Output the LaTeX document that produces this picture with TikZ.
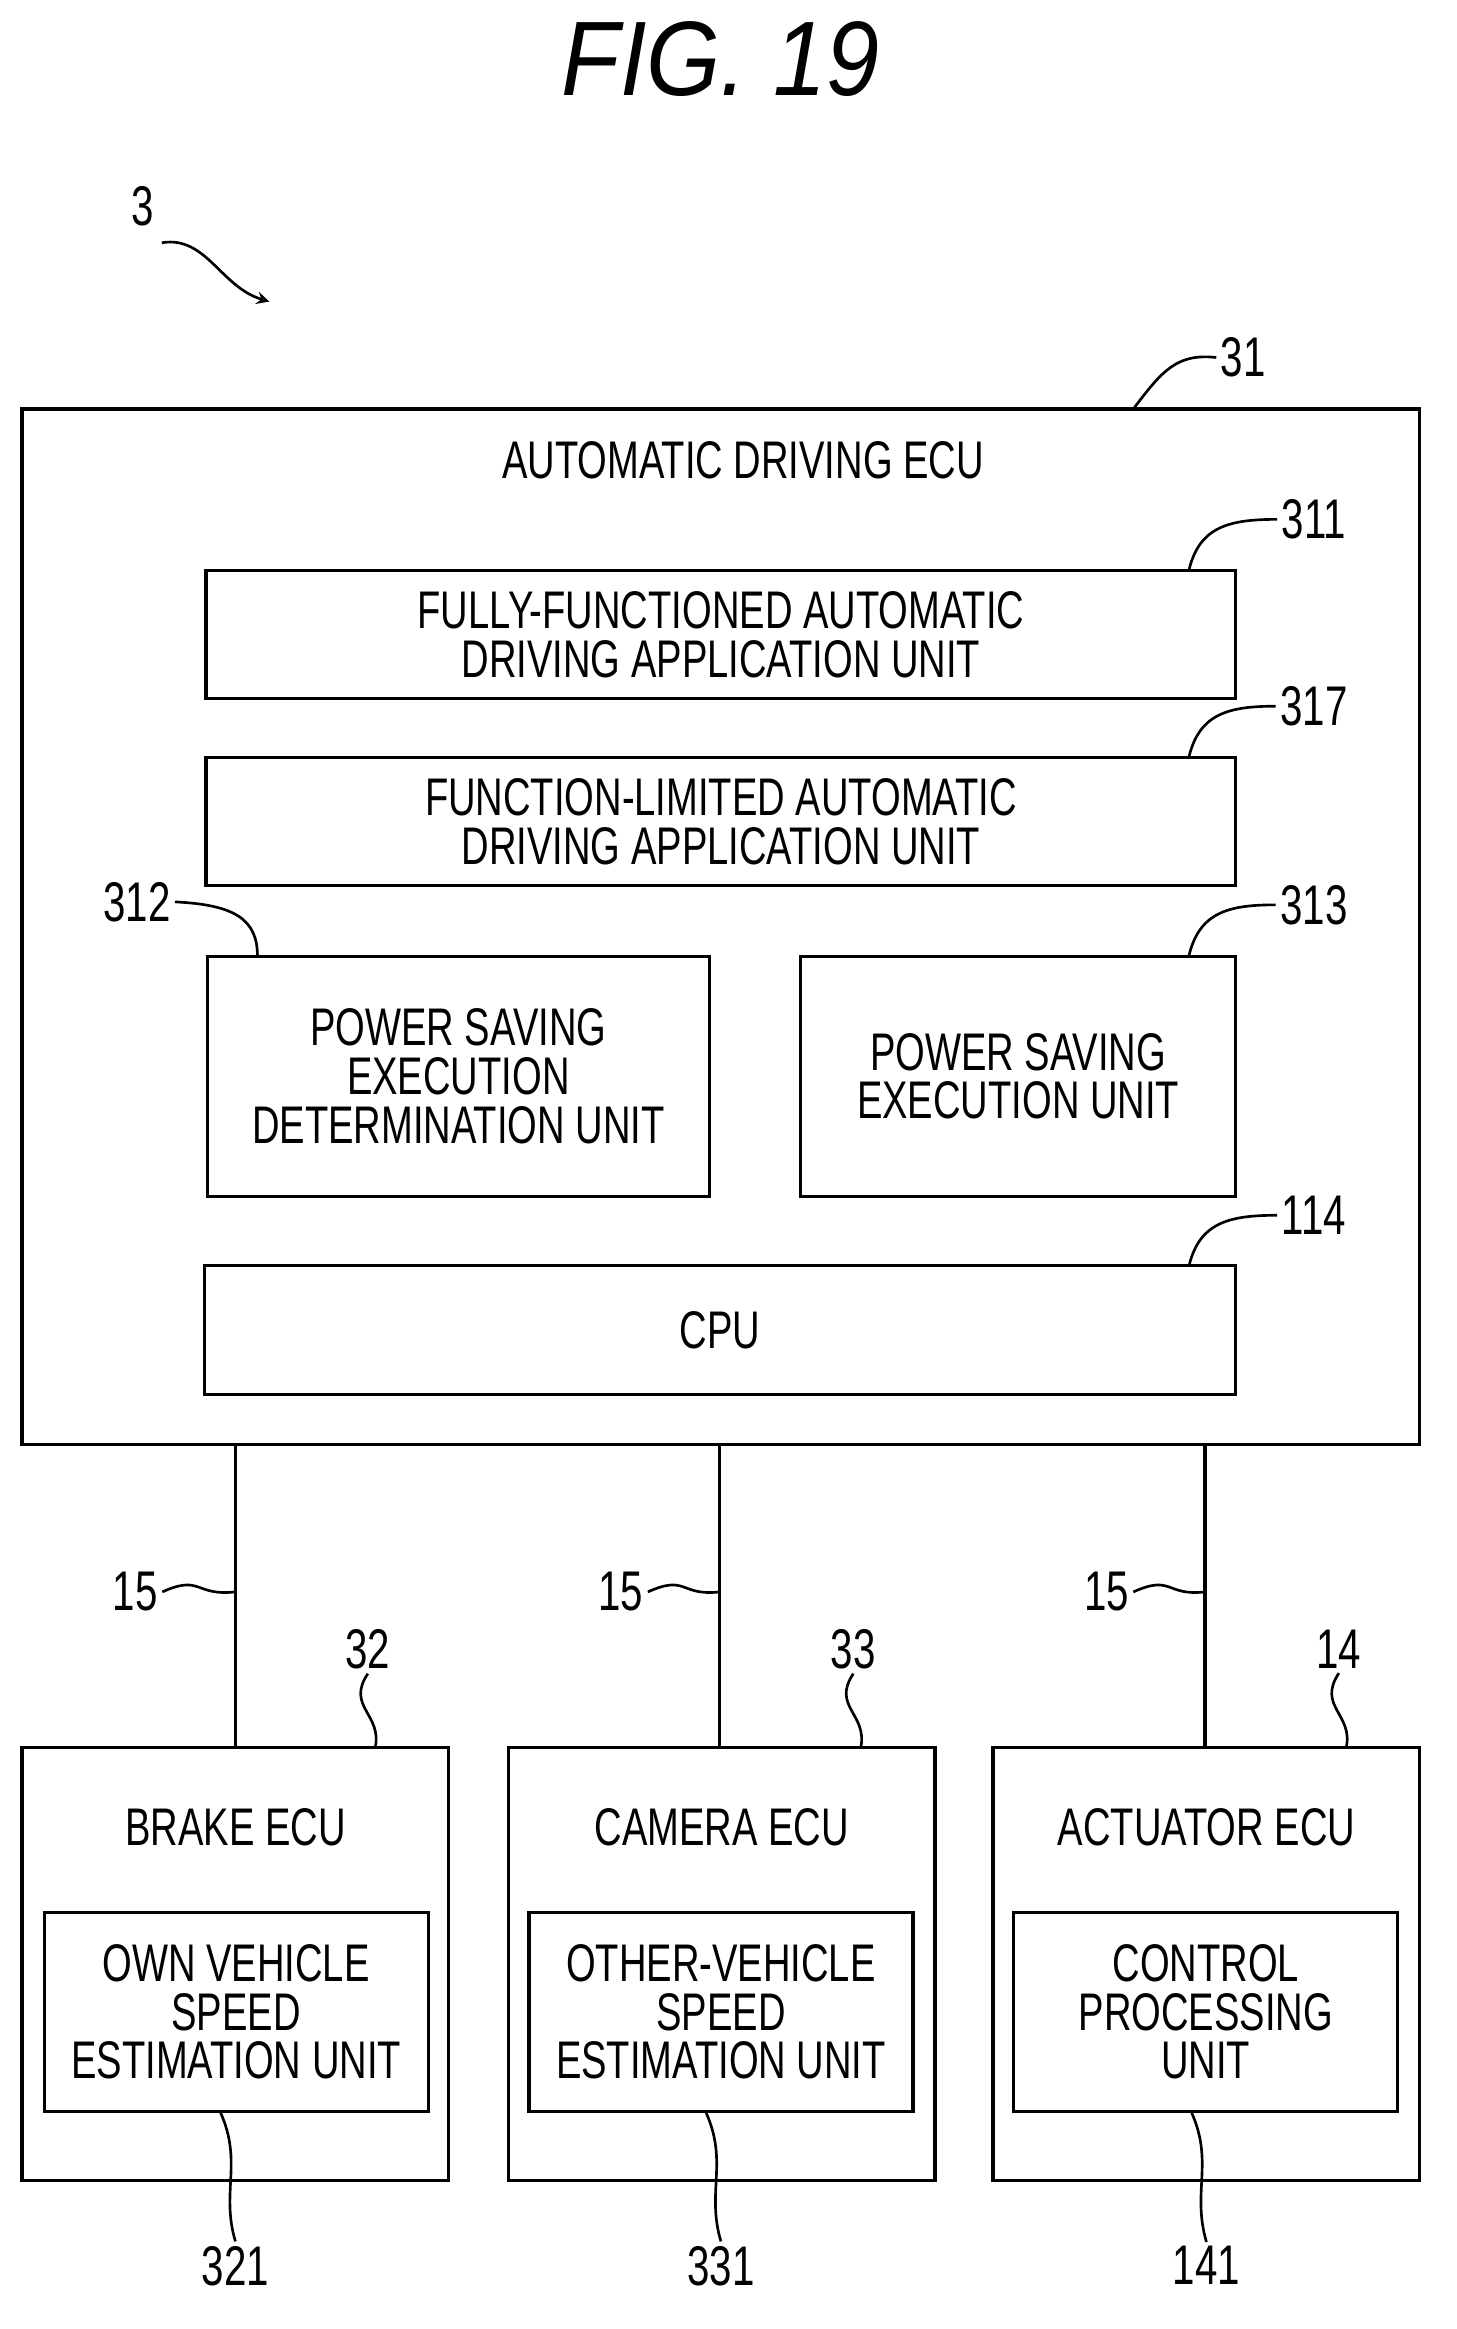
\documentclass[tikz,border=0pt]{standalone}
\usepackage{fontspec}
\setmainfont{Liberation Sans}[FakeStretch=0.72]
\newfontfamily\figfont{Liberation Sans}[FakeStretch=0.9]
\usetikzlibrary{positioning}
\begin{document}
\begin{tikzpicture}[x=0.5pt,y=-0.5pt,line width=1.1pt,
    box/.style={draw,align=center,inner sep=0pt,font=\fontsize{18}{16.5}\selectfont},
    txt/.style={align=center,inner sep=0pt,font=\fontsize{18}{16.5}\selectfont},
    num/.style={inner sep=1pt,font=\fontsize{19}{19}\selectfont},
    lead/.style={line width=0.9pt}]
  \useasboundingbox (0,0) rectangle (990,1583);
  \node[font=\figfont\fontsize{36}{36}\selectfont\itshape] (fig) at (490,40) {FIG. 19};
  % automatic driving ecu
  \node[box,minimum width=475pt,minimum height=352pt] (b31) at (490,630) {};
  \node[txt] (t31) at (505,313) {AUTOMATIC DRIVING ECU};
  \node[box,minimum width=350pt,minimum height=43.5pt] (b311) at (490,431.5)
       {FULLY-FUNCTIONED AUTOMATIC\\DRIVING APPLICATION UNIT};
  \node[box,minimum width=350pt,minimum height=43.5pt] (b317) at (490,558.5)
       {FUNCTION-LIMITED AUTOMATIC\\DRIVING APPLICATION UNIT};
  \node[box,minimum width=170.5pt,minimum height=81.5pt] (b312) at (311.5,731.5)
       {POWER SAVING\\EXECUTION\\DETERMINATION UNIT};
  \node[box,minimum width=148pt,minimum height=81.5pt] (b313) at (692,731.5)
       {POWER SAVING\\EXECUTION UNIT};
  \node[box,minimum width=350.5pt,minimum height=44pt] (b114) at (489.5,904) {CPU};
  % lower ecus
  \foreach \n/\x/\ix/\title/\inner in {32/160/160.5/BRAKE ECU/OWN VEHICLE\\SPEED\\ESTIMATION UNIT,
      33/490.5/490/CAMERA ECU/OTHER-VEHICLE\\SPEED\\ESTIMATION UNIT,
      14/820/819.5/ACTUATOR ECU/CONTROL\\PROCESSING\\UNIT}{
    \node[box,minimum width=145pt,minimum height=147pt] (b\n) at (\x,1335) {};
    \node[txt] (t\n) at (\x,1242) {\title};
    \node[box,minimum width=130.5pt,minimum height=67.5pt] (i\n) at (\ix,1367.5) {\inner};
  }
  % bus lines
  \coordinate (l1) at (160,982);  \coordinate (l2) at (489,982);  \coordinate (l3) at (819,982);
  \draw (l1) -- (l1 |- b32.north);
  \draw (l2) -- (l2 |- b33.north);
  \draw (l3) -- (l3 |- b14.north);
  % reference numerals
  \node[num] (n3) at (97,140) {3};
  \draw[lead,->,>=stealth] (110,165) .. controls (140,160) and (150,195) .. (183,205);
  \node[num] (n31) at (845,243) {31};
  \draw[lead] (n31.west) .. controls (800,240) and (790,252) .. ([xshift=-97.5pt]b31.north east);
  \foreach \n/\y in {311/353,317/480,313/615,114/826}{
    \node[num] (n\n) at (893,\y) {\n};
    \draw[lead] (n\n.west) .. controls (835,\y) and (815,\y+5) .. (808,\y+35);
  }
  \node[num] (n312) at (93,613) {312};
  \draw[lead] (n312.east) .. controls (160,615) and (175,625) .. (175,650);
  \foreach \x/\lx in {160/92,489/422,819/752}{
    \node[num] (m\x) at (\lx,1082) {15};
    \draw[lead] (m\x.east) .. controls (\lx+45,1070) and (\lx+40,1085) .. (\x,1082);
  }
  \foreach \n/\x in {32/250,33/580,14/910}{
    \node[num] (k\n) at (\x,1121) {\n};
    \draw[lead] (k\n.south) .. controls (\x-15,1160) and (\x+10,1165) .. (\x+5,1188);
  }
  \foreach \n/\m/\x in {32/321/160,33/331/490,14/141/820}{
    \node[num] (k\m) at (\x,1540) {\m};
    \draw[lead] (k\m.north) .. controls (\x-10,1490) and (\x+5,1470) .. (i\n.south -| {(\x-10,0)});
  }
\end{tikzpicture}
\end{document}
